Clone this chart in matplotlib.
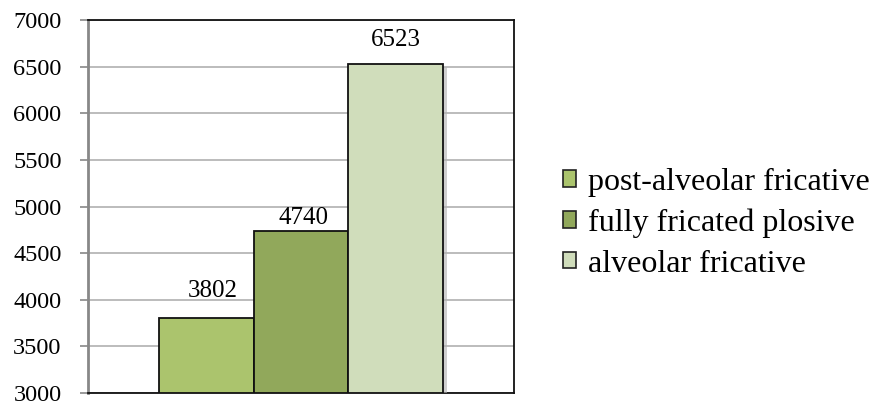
import matplotlib.pyplot as plt
import matplotlib.patheffects as pe
from matplotlib.patches import Patch

labels = ["post-alveolar fricative", "fully fricated plosive", "alveolar fricative"]
values = [3802, 4740, 6523]
colors = ["#abc46d", "#91a85b", "#d0ddbb"]
yticks = [3000, 3500, 4000, 4500, 5000, 5500, 6000, 6500, 7000]

plt.rcParams["font.family"] = ["Liberation Serif", "DejaVu Serif"]

fig = plt.figure(figsize=(8.7, 4.05), dpi=100)
ax = fig.add_axes([0.1011, 0.0296, 0.4897, 0.921])

# value label offsets (points) as Excel placed them
label_offsets = [(5, 15), (2, 5), (0, 13)]

width = 2 / 9
xs = [1 / 6 + width / 2 + i * width for i in range(3)]
shadow = [pe.SimplePatchShadow(offset=(3, -2), shadow_rgbFace="#b0b0b0", alpha=0.6), pe.Normal()]
for x, v, c, off in zip(xs, values, colors, label_offsets):
    ax.bar(x, v - 3000, width=width, bottom=3000, color=c, edgecolor="#111111",
           linewidth=1.3, zorder=3, path_effects=shadow)
    ax.annotate(str(v), (x, v), xytext=off, textcoords="offset points",
                ha="center", va="baseline", fontsize=18, zorder=4)

ax.set_xlim(0, 1)
ax.set_ylim(3000, 7000)
ax.set_yticks(yticks)
ax.set_xticks([])
ax.tick_params(axis="y", labelsize=17.5, length=6, width=1.2, color="#888888", pad=13)
ax.grid(axis="y", color="#b0b0b0", linewidth=1.2, zorder=0)

for side in ["top", "right", "bottom"]:
    ax.spines[side].set_color("#111111")
    ax.spines[side].set_linewidth(1.3)
    ax.spines[side].set_path_effects(
        [pe.SimplePatchShadow(offset=(3, -3), shadow_rgbFace="#999999", alpha=0.6), pe.Normal()])
ax.spines["left"].set_color("#888888")
ax.spines["left"].set_linewidth(2)

handles = [Patch(facecolor=c, edgecolor="#222222", linewidth=1.2) for c in colors]
ax.legend(handles, labels, loc="center left", bbox_to_anchor=(1.115, 0.455), frameon=False,
          fontsize=23, handlelength=0.42, handleheight=0.42, handletextpad=0.35,
          labelspacing=0.36, borderpad=0, borderaxespad=0)

fig.savefig("out.png", dpi=100)
